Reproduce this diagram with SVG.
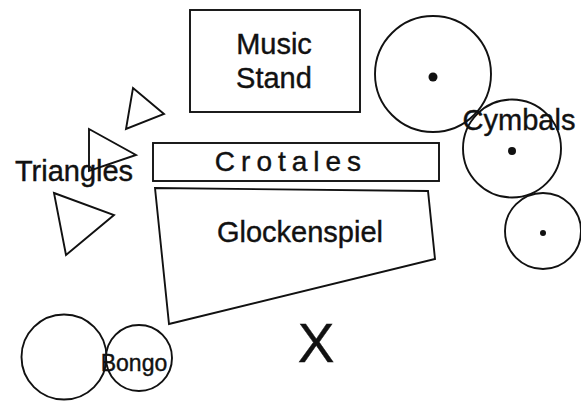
<svg xmlns="http://www.w3.org/2000/svg" width="581" height="402" viewBox="0 0 581 402">
<style>
.s{fill:none;stroke:#111;stroke-width:1.9}
.w{fill:#fff;stroke:#111;stroke-width:1.9}
.t{font-family:"Liberation Sans",Arial,sans-serif;fill:#111;stroke:#111;stroke-width:0.4;font-size:29px}
.c{font-size:28px;letter-spacing:6px}
.b{font-size:23px}
.x{font-size:55px}
.d{fill:#111}
</style>
<rect width="581" height="402" fill="#fff"/>
<g id="music-stand">
<rect class="s" x="190" y="10" width="170" height="102"/>
<text class="t" x="274" y="54" text-anchor="middle">Music</text>
<text class="t" x="274" y="88" text-anchor="middle">Stand</text>
</g>
<g id="crotales">
<rect class="s" x="153" y="143" width="286" height="38"/>
<text class="t c" x="291" y="171" text-anchor="middle">Crotales</text>
</g>
<g id="glockenspiel">
<polygon class="s" points="155,188 428,191 435,259 169,324"/>
<text class="t" x="300" y="242" text-anchor="middle">Glockenspiel</text>
</g>
<g id="triangles">
<polygon class="s" points="133,88 164,114 126,129"/>
<polygon class="s" points="89,129 136,155 89,171"/>
<polygon class="s" points="54,193 114,215 66,255"/>
<text class="t" x="74" y="181" text-anchor="middle">Triangles</text>
</g>
<g id="cymbals">
<circle class="s" cx="433" cy="74" r="58"/>
<circle class="d" cx="433" cy="77" r="4.5"/>
<circle class="s" cx="512" cy="148.5" r="49"/>
<circle class="d" cx="512" cy="151" r="4"/>
<circle class="s" cx="543" cy="231" r="38"/>
<circle class="d" cx="543" cy="233" r="3"/>
<text class="t" x="519" y="130" text-anchor="middle">Cymbals</text>
</g>
<g id="bongo">
<circle class="s" cx="64" cy="357" r="42.5"/>
<circle class="w" cx="139" cy="358" r="33"/>
<text class="t b" x="134" y="371" text-anchor="middle">Bongo</text>
</g>
<g id="player">
<text class="t x" x="316" y="362" text-anchor="middle">X</text>
</g>
<g id="connectors"/>
</svg>
